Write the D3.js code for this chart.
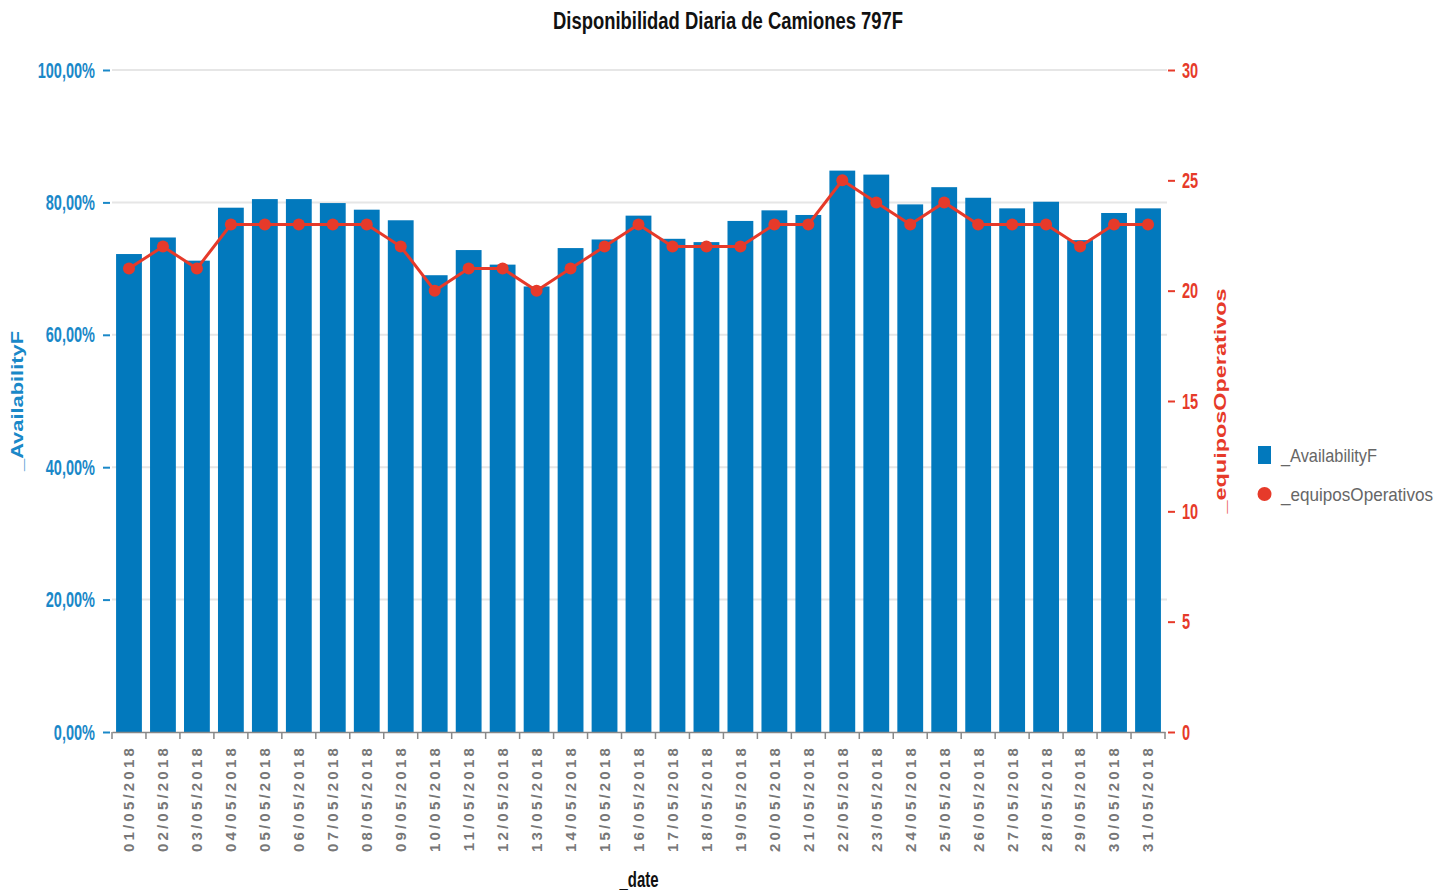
<!DOCTYPE html>
<html><head><meta charset="utf-8">
<script src="https://cdn.jsdelivr.net/npm/d3@7"></script>
<style>
body{margin:0;background:#fff;}
text{font-family:"Liberation Sans",Arial,sans-serif;}
</style></head>
<body>
<svg id="chart" width="1451" height="893"></svg>
<script>
const dates = ["01/05/2018","02/05/2018","03/05/2018","04/05/2018","05/05/2018","06/05/2018","07/05/2018","08/05/2018","09/05/2018","10/05/2018","11/05/2018","12/05/2018","13/05/2018","14/05/2018","15/05/2018","16/05/2018","17/05/2018","18/05/2018","19/05/2018","20/05/2018","21/05/2018","22/05/2018","23/05/2018","24/05/2018","25/05/2018","26/05/2018","27/05/2018","28/05/2018","29/05/2018","30/05/2018","31/05/2018"];
const availability = [72.2,74.7,71.2,79.2,80.5,80.5,79.9,78.9,77.3,69.0,72.8,70.6,67.3,73.1,74.4,78.0,74.5,74.0,77.2,78.8,78.1,84.8,84.2,79.7,82.3,80.7,79.1,80.1,74.3,78.4,79.1];
const equipos = [21,22,21,23,23,23,23,23,22,20,21,21,20,21,22,23,22,22,22,23,23,25,24,23,24,23,23,23,22,23,23];
const leftTicks = [0,20,40,60,80,100];
const rightTicks = [0,5,10,15,20,25,30];

const svg = d3.select("#chart");
const L = 112, R = 1165, T = 70, B = 732;
const blue = "#0279BD", red = "#E63A2A", blueText = "#1A88C8";

// condense text horizontally by factor f (simulates a narrow font)
function condense(sel, f) {
  sel.each(function () {
    const w = this.getComputedTextLength();
    d3.select(this).attr("textLength", w * f).attr("lengthAdjust", "spacingAndGlyphs");
  });
}
function fitTo(sel, w) {
  sel.attr("textLength", w).attr("lengthAdjust", "spacingAndGlyphs");
}

const x = d3.scaleBand().domain(dates).range([L, R]).paddingInner(0.24).paddingOuter(0.12);
const yL = d3.scaleLinear().domain([0, 100]).range([B, T]);
const yR = d3.scaleLinear().domain([0, 30]).range([B, T]);

// gridlines
svg.append("g").selectAll("line").data(leftTicks.slice(1)).join("line")
  .attr("x1", L).attr("x2", R + 2).attr("y1", d => yL(d)).attr("y2", d => yL(d))
  .attr("stroke", "#e6e6e6").attr("stroke-width", 2);

// bars
svg.append("g").selectAll("rect").data(dates).join("rect")
  .attr("x", d => x(d)).attr("width", x.bandwidth())
  .attr("y", (d, i) => yL(availability[i])).attr("height", (d, i) => B - yL(availability[i]))
  .attr("fill", blue);

// left axis
const gl = svg.append("g").attr("transform", `translate(${L - 2},0)`)
  .call(d3.axisLeft(yL).tickValues(leftTicks).tickSize(7).tickPadding(8)
    .tickFormat(d => d.toFixed(2).replace(".", ",") + "%"));
gl.select(".domain").remove();
gl.selectAll("line").attr("stroke", blueText).attr("stroke-width", 2);
gl.selectAll("text").attr("fill", blueText)
  .attr("font-size", 22).attr("font-weight", "bold");
condense(gl.selectAll("text"), 0.66);

// right axis
const gr = svg.append("g").attr("transform", `translate(${R + 3},0)`)
  .call(d3.axisRight(yR).tickValues(rightTicks).tickSize(7).tickPadding(7));
gr.select(".domain").remove();
gr.selectAll("line").attr("stroke", red).attr("stroke-width", 2);
gr.selectAll("text").attr("fill", red)
  .attr("font-size", 22).attr("font-weight", "bold");
condense(gr.selectAll("text"), 0.66);

// x axis
const gx = svg.append("g").attr("transform", `translate(0,${B})`)
  .call(d3.axisBottom(x).tickSize(0).tickPadding(0));
gx.select(".domain").attr("stroke", "#888").attr("stroke-width", 1.5);
gx.selectAll(".tick line").remove();
svg.append("g").selectAll("line").data(d3.range(dates.length + 1)).join("line")
  .attr("x1", i => L + i * (R - L) / dates.length).attr("x2", i => L + i * (R - L) / dates.length)
  .attr("y1", B).attr("y2", B + 7).attr("stroke", "#888").attr("stroke-width", 1.5);
gx.selectAll(".tick text")
  .attr("transform", "rotate(-90)")
  .attr("x", -13).attr("y", 0).attr("dy", "0.36em")
  .style("text-anchor", "end")
  .attr("fill", "#777")
  .attr("font-size", 15).attr("font-weight", "bold").attr("letter-spacing", "3.2px");

// line + markers
const line = d3.line().x((d, i) => x(dates[i]) + x.bandwidth() / 2).y(d => yR(d));
svg.append("path").datum(equipos).attr("d", line)
  .attr("fill", "none").attr("stroke", red).attr("stroke-width", 3);
svg.append("g").selectAll("circle").data(equipos).join("circle")
  .attr("cx", (d, i) => x(dates[i]) + x.bandwidth() / 2).attr("cy", d => yR(d))
  .attr("r", 6).attr("fill", red);

// title
svg.append("text").attr("x", 728).attr("y", 29)
  .attr("text-anchor", "middle").attr("font-size", 24).attr("font-weight", "bold")
  .attr("fill", "#111").text("Disponibilidad Diaria de Camiones 797F").call(fitTo, 350);

// axis titles
svg.append("text").attr("transform", "translate(23,401) rotate(-90)")
  .attr("text-anchor", "middle")
  .attr("font-size", 17).attr("font-weight", "bold").attr("fill", blueText).text("_AvailabilityF").call(fitTo, 140);
svg.append("text").attr("transform", "translate(1226,401) rotate(-90)")
  .attr("text-anchor", "middle")
  .attr("font-size", 17).attr("font-weight", "bold").attr("fill", red).text("_equiposOperativos").call(fitTo, 225);
svg.append("text").attr("x", 639).attr("y", 887)
  .attr("text-anchor", "middle").attr("font-size", 22).attr("font-weight", "bold")
  .attr("fill", "#111").text("_date").call(fitTo, 39);

// legend
const lg = svg.append("g");
lg.append("rect").attr("x", 1258).attr("y", 446).attr("width", 13).attr("height", 18).attr("fill", blue);
lg.append("circle").attr("cx", 1264.5).attr("cy", 494).attr("r", 7).attr("fill", red);
lg.append("text").attr("x", 1281).attr("y", 462)
  .attr("font-size", 19).attr("fill", "#666").text("_AvailabilityF").call(fitTo, 96);
lg.append("text").attr("x", 1281).attr("y", 501)
  .attr("font-size", 19).attr("fill", "#666").text("_equiposOperativos").call(fitTo, 152);
</script>
</body></html>
